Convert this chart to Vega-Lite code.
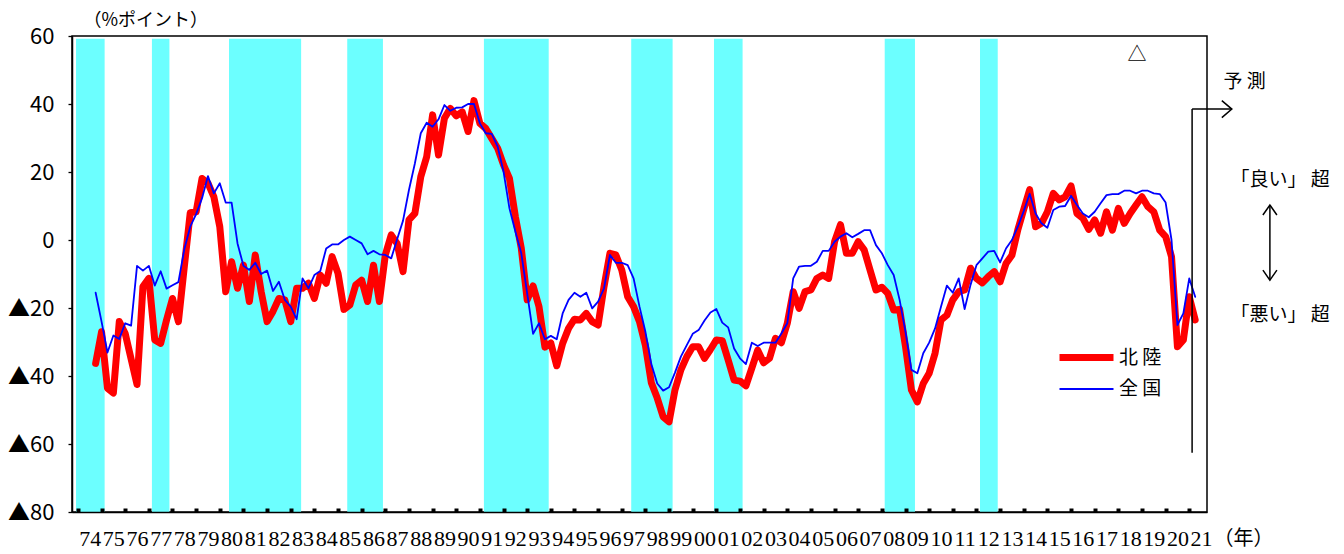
{
  "$schema": "https://vega.github.io/schema/vega-lite/v6.json",
  "width": 1135,
  "height": 476,
  "autosize": {"type": "none"},
  "padding": {"left": 72, "top": 36, "right": 137, "bottom": 42},
  "background": "white",
  "config": {
    "view": {"stroke": "black", "strokeWidth": 1.5},
    "text": {"font": "Noto Sans CJK JP", "fontSize": 18, "color": "black"}
  },
  "datasets": {
    "series": [
      {"t":1974.75,"hokuriku":-36.3,"zenkoku":-15.5},
      {"t":1975.0,"hokuriku":-27.0,"zenkoku":-24.0},
      {"t":1975.25,"hokuriku":-43.6,"zenkoku":-33.1},
      {"t":1975.5,"hokuriku":-45.0,"zenkoku":-28.1},
      {"t":1975.75,"hokuriku":-24.0,"zenkoku":-29.1},
      {"t":1976.0,"hokuriku":-27.5,"zenkoku":-24.5},
      {"t":1976.25,"hokuriku":-35.0,"zenkoku":-25.2},
      {"t":1976.5,"hokuriku":-42.5,"zenkoku":-7.6},
      {"t":1976.75,"hokuriku":-13.7,"zenkoku":-9.0},
      {"t":1977.0,"hokuriku":-11.3,"zenkoku":-7.6},
      {"t":1977.25,"hokuriku":-29.4,"zenkoku":-13.4},
      {"t":1977.5,"hokuriku":-30.4,"zenkoku":-9.2},
      {"t":1977.75,"hokuriku":-23.5,"zenkoku":-14.3},
      {"t":1978.0,"hokuriku":-17.2,"zenkoku":-13.3},
      {"t":1978.25,"hokuriku":-24.0,"zenkoku":-12.4},
      {"t":1978.5,"hokuriku":-7.8,"zenkoku":-2.7},
      {"t":1978.75,"hokuriku":8.0,"zenkoku":3.9},
      {"t":1979.0,"hokuriku":8.3,"zenkoku":7.6},
      {"t":1979.25,"hokuriku":18.1,"zenkoku":12.3},
      {"t":1979.5,"hokuriku":16.7,"zenkoku":18.8},
      {"t":1979.75,"hokuriku":12.7,"zenkoku":13.7},
      {"t":1980.0,"hokuriku":3.9,"zenkoku":16.7},
      {"t":1980.25,"hokuriku":-15.2,"zenkoku":11.0},
      {"t":1980.5,"hokuriku":-6.4,"zenkoku":11.0},
      {"t":1980.75,"hokuriku":-14.2,"zenkoku":-1.0},
      {"t":1981.0,"hokuriku":-7.4,"zenkoku":-7.6},
      {"t":1981.25,"hokuriku":-18.1,"zenkoku":-8.8},
      {"t":1981.5,"hokuriku":-4.4,"zenkoku":-6.7},
      {"t":1981.75,"hokuriku":-15.2,"zenkoku":-10.0},
      {"t":1982.0,"hokuriku":-24.0,"zenkoku":-9.0},
      {"t":1982.25,"hokuriku":-21.0,"zenkoku":-15.0},
      {"t":1982.5,"hokuriku":-17.2,"zenkoku":-12.3},
      {"t":1982.75,"hokuriku":-17.6,"zenkoku":-17.6},
      {"t":1983.0,"hokuriku":-24.0,"zenkoku":-19.6},
      {"t":1983.25,"hokuriku":-14.2,"zenkoku":-23.3},
      {"t":1983.5,"hokuriku":-14.2,"zenkoku":-11.3},
      {"t":1983.75,"hokuriku":-12.7,"zenkoku":-14.2},
      {"t":1984.0,"hokuriku":-17.2,"zenkoku":-10.3},
      {"t":1984.25,"hokuriku":-10.3,"zenkoku":-9.1},
      {"t":1984.5,"hokuriku":-12.7,"zenkoku":-2.5},
      {"t":1984.75,"hokuriku":-4.9,"zenkoku":-1.3},
      {"t":1985.0,"hokuriku":-9.8,"zenkoku":-1.3},
      {"t":1985.25,"hokuriku":-20.4,"zenkoku":0.0},
      {"t":1985.5,"hokuriku":-19.1,"zenkoku":1.0},
      {"t":1985.75,"hokuriku":-13.2,"zenkoku":0.0},
      {"t":1986.0,"hokuriku":-11.8,"zenkoku":-1.0},
      {"t":1986.25,"hokuriku":-18.1,"zenkoku":-4.2},
      {"t":1986.5,"hokuriku":-7.4,"zenkoku":-3.2},
      {"t":1986.75,"hokuriku":-18.1,"zenkoku":-4.2},
      {"t":1987.0,"hokuriku":-4.4,"zenkoku":-4.4},
      {"t":1987.25,"hokuriku":1.5,"zenkoku":-5.4},
      {"t":1987.5,"hokuriku":-1.0,"zenkoku":0.2},
      {"t":1987.75,"hokuriku":-9.3,"zenkoku":5.7},
      {"t":1988.0,"hokuriku":5.9,"zenkoku":14.7},
      {"t":1988.25,"hokuriku":7.8,"zenkoku":22.5},
      {"t":1988.5,"hokuriku":18.6,"zenkoku":31.4},
      {"t":1988.75,"hokuriku":24.5,"zenkoku":34.5},
      {"t":1989.0,"hokuriku":36.8,"zenkoku":33.3},
      {"t":1989.25,"hokuriku":25.0,"zenkoku":35.5},
      {"t":1989.5,"hokuriku":35.8,"zenkoku":39.7},
      {"t":1989.75,"hokuriku":38.7,"zenkoku":38.0},
      {"t":1990.0,"hokuriku":36.5,"zenkoku":38.9},
      {"t":1990.25,"hokuriku":37.7,"zenkoku":39.0},
      {"t":1990.5,"hokuriku":31.9,"zenkoku":40.0},
      {"t":1990.75,"hokuriku":41.0,"zenkoku":40.0},
      {"t":1991.0,"hokuriku":34.3,"zenkoku":34.3},
      {"t":1991.25,"hokuriku":32.8,"zenkoku":31.4},
      {"t":1991.5,"hokuriku":29.9,"zenkoku":31.2},
      {"t":1991.75,"hokuriku":27.0,"zenkoku":27.5},
      {"t":1992.0,"hokuriku":22.1,"zenkoku":20.1},
      {"t":1992.25,"hokuriku":18.1,"zenkoku":9.3},
      {"t":1992.5,"hokuriku":6.9,"zenkoku":2.5},
      {"t":1992.75,"hokuriku":-2.4,"zenkoku":-3.9},
      {"t":1993.0,"hokuriku":-17.6,"zenkoku":-15.7},
      {"t":1993.25,"hokuriku":-13.5,"zenkoku":-27.6},
      {"t":1993.5,"hokuriku":-19.6,"zenkoku":-24.5},
      {"t":1993.75,"hokuriku":-31.5,"zenkoku":-29.2},
      {"t":1994.0,"hokuriku":-30.3,"zenkoku":-28.2},
      {"t":1994.25,"hokuriku":-37.0,"zenkoku":-29.2},
      {"t":1994.5,"hokuriku":-30.4,"zenkoku":-21.6},
      {"t":1994.75,"hokuriku":-26.0,"zenkoku":-17.6},
      {"t":1995.0,"hokuriku":-23.3,"zenkoku":-15.5},
      {"t":1995.25,"hokuriku":-23.5,"zenkoku":-16.7},
      {"t":1995.5,"hokuriku":-21.6,"zenkoku":-15.5},
      {"t":1995.75,"hokuriku":-24.0,"zenkoku":-20.1},
      {"t":1996.0,"hokuriku":-25.0,"zenkoku":-18.1},
      {"t":1996.25,"hokuriku":-13.7,"zenkoku":-14.2},
      {"t":1996.5,"hokuriku":-3.9,"zenkoku":-4.4},
      {"t":1996.75,"hokuriku":-4.4,"zenkoku":-6.7},
      {"t":1997.0,"hokuriku":-8.8,"zenkoku":-6.7},
      {"t":1997.25,"hokuriku":-16.7,"zenkoku":-7.4},
      {"t":1997.5,"hokuriku":-19.6,"zenkoku":-11.3},
      {"t":1997.75,"hokuriku":-24.0,"zenkoku":-19.6},
      {"t":1998.0,"hokuriku":-31.0,"zenkoku":-27.0},
      {"t":1998.25,"hokuriku":-42.0,"zenkoku":-36.5},
      {"t":1998.5,"hokuriku":-46.5,"zenkoku":-42.2},
      {"t":1998.75,"hokuriku":-52.0,"zenkoku":-44.3},
      {"t":1999.0,"hokuriku":-53.5,"zenkoku":-43.3},
      {"t":1999.25,"hokuriku":-44.1,"zenkoku":-39.0},
      {"t":1999.5,"hokuriku":-38.2,"zenkoku":-34.3},
      {"t":1999.75,"hokuriku":-34.3,"zenkoku":-30.9},
      {"t":2000.0,"hokuriku":-31.4,"zenkoku":-27.6},
      {"t":2000.25,"hokuriku":-31.4,"zenkoku":-26.5},
      {"t":2000.5,"hokuriku":-34.8,"zenkoku":-23.7},
      {"t":2000.75,"hokuriku":-32.2,"zenkoku":-21.3},
      {"t":2001.0,"hokuriku":-29.4,"zenkoku":-20.3},
      {"t":2001.25,"hokuriku":-29.6,"zenkoku":-24.3},
      {"t":2001.5,"hokuriku":-35.3,"zenkoku":-25.7},
      {"t":2001.75,"hokuriku":-41.2,"zenkoku":-31.9},
      {"t":2002.0,"hokuriku":-41.5,"zenkoku":-34.8},
      {"t":2002.25,"hokuriku":-42.9,"zenkoku":-36.5},
      {"t":2002.5,"hokuriku":-37.7,"zenkoku":-30.2},
      {"t":2002.75,"hokuriku":-32.4,"zenkoku":-31.2},
      {"t":2003.0,"hokuriku":-36.1,"zenkoku":-30.2},
      {"t":2003.25,"hokuriku":-34.8,"zenkoku":-30.2},
      {"t":2003.5,"hokuriku":-28.9,"zenkoku":-30.2},
      {"t":2003.75,"hokuriku":-30.2,"zenkoku":-27.5},
      {"t":2004.0,"hokuriku":-24.5,"zenkoku":-24.5},
      {"t":2004.25,"hokuriku":-15.2,"zenkoku":-11.3},
      {"t":2004.5,"hokuriku":-20.1,"zenkoku":-7.8},
      {"t":2004.75,"hokuriku":-15.2,"zenkoku":-7.6},
      {"t":2005.0,"hokuriku":-14.7,"zenkoku":-7.6},
      {"t":2005.25,"hokuriku":-11.3,"zenkoku":-6.4},
      {"t":2005.5,"hokuriku":-10.3,"zenkoku":-3.2},
      {"t":2005.75,"hokuriku":-11.3,"zenkoku":-3.2},
      {"t":2006.0,"hokuriku":-0.5,"zenkoku":-0.5},
      {"t":2006.25,"hokuriku":4.5,"zenkoku":1.0},
      {"t":2006.5,"hokuriku":-3.9,"zenkoku":2.0},
      {"t":2006.75,"hokuriku":-3.9,"zenkoku":0.8},
      {"t":2007.0,"hokuriku":-0.5,"zenkoku":1.8},
      {"t":2007.25,"hokuriku":-2.9,"zenkoku":2.9},
      {"t":2007.5,"hokuriku":-8.8,"zenkoku":2.9},
      {"t":2007.75,"hokuriku":-14.7,"zenkoku":-1.5},
      {"t":2008.0,"hokuriku":-13.9,"zenkoku":-3.9},
      {"t":2008.25,"hokuriku":-15.7,"zenkoku":-7.4},
      {"t":2008.5,"hokuriku":-20.6,"zenkoku":-10.3},
      {"t":2008.75,"hokuriku":-20.4,"zenkoku":-17.6},
      {"t":2009.0,"hokuriku":-31.4,"zenkoku":-27.0},
      {"t":2009.25,"hokuriku":-44.1,"zenkoku":-38.2},
      {"t":2009.5,"hokuriku":-47.6,"zenkoku":-39.2},
      {"t":2009.75,"hokuriku":-42.2,"zenkoku":-33.3},
      {"t":2010.0,"hokuriku":-39.2,"zenkoku":-30.2},
      {"t":2010.25,"hokuriku":-33.3,"zenkoku":-26.0},
      {"t":2010.5,"hokuriku":-23.5,"zenkoku":-19.6},
      {"t":2010.75,"hokuriku":-22.1,"zenkoku":-13.4},
      {"t":2011.0,"hokuriku":-17.6,"zenkoku":-15.5},
      {"t":2011.25,"hokuriku":-15.2,"zenkoku":-11.3},
      {"t":2011.5,"hokuriku":-14.7,"zenkoku":-20.3},
      {"t":2011.75,"hokuriku":-8.3,"zenkoku":-13.2},
      {"t":2012.0,"hokuriku":-11.3,"zenkoku":-7.4},
      {"t":2012.25,"hokuriku":-12.6,"zenkoku":-5.4},
      {"t":2012.5,"hokuriku":-10.8,"zenkoku":-3.4},
      {"t":2012.75,"hokuriku":-9.3,"zenkoku":-3.2},
      {"t":2013.0,"hokuriku":-12.3,"zenkoku":-6.6},
      {"t":2013.25,"hokuriku":-6.9,"zenkoku":-2.5},
      {"t":2013.5,"hokuriku":-4.5,"zenkoku":0.0},
      {"t":2013.75,"hokuriku":3.0,"zenkoku":3.9},
      {"t":2014.0,"hokuriku":9.0,"zenkoku":8.5},
      {"t":2014.25,"hokuriku":14.8,"zenkoku":13.6},
      {"t":2014.5,"hokuriku":3.9,"zenkoku":7.8},
      {"t":2014.75,"hokuriku":4.9,"zenkoku":4.9},
      {"t":2015.0,"hokuriku":8.3,"zenkoku":3.6},
      {"t":2015.25,"hokuriku":13.7,"zenkoku":8.8},
      {"t":2015.5,"hokuriku":11.8,"zenkoku":9.8},
      {"t":2015.75,"hokuriku":12.7,"zenkoku":10.0},
      {"t":2016.0,"hokuriku":15.9,"zenkoku":13.0},
      {"t":2016.25,"hokuriku":7.8,"zenkoku":10.3},
      {"t":2016.5,"hokuriku":6.4,"zenkoku":7.8},
      {"t":2016.75,"hokuriku":3.1,"zenkoku":6.7},
      {"t":2017.0,"hokuriku":5.9,"zenkoku":8.3},
      {"t":2017.25,"hokuriku":2.0,"zenkoku":10.8},
      {"t":2017.5,"hokuriku":8.3,"zenkoku":13.2},
      {"t":2017.75,"hokuriku":2.9,"zenkoku":13.5},
      {"t":2018.0,"hokuriku":9.3,"zenkoku":13.5},
      {"t":2018.25,"hokuriku":4.9,"zenkoku":14.5},
      {"t":2018.5,"hokuriku":7.8,"zenkoku":14.5},
      {"t":2018.75,"hokuriku":10.3,"zenkoku":13.7},
      {"t":2019.0,"hokuriku":12.7,"zenkoku":14.5},
      {"t":2019.25,"hokuriku":9.8,"zenkoku":14.5},
      {"t":2019.5,"hokuriku":8.3,"zenkoku":13.7},
      {"t":2019.75,"hokuriku":2.9,"zenkoku":13.5},
      {"t":2020.0,"hokuriku":1.0,"zenkoku":11.0},
      {"t":2020.25,"hokuriku":-4.9,"zenkoku":0.0},
      {"t":2020.5,"hokuriku":-31.4,"zenkoku":-25.0},
      {"t":2020.75,"hokuriku":-29.4,"zenkoku":-21.6},
      {"t":2021.0,"hokuriku":-16.7,"zenkoku":-11.3},
      {"t":2021.25,"hokuriku":-23.5,"zenkoku":-16.7}
    ],
    "bands": [
      {"t":1973.92,"t2":1975.13},
      {"t":1977.13,"t2":1977.87},
      {"t":1980.39,"t2":1983.44},
      {"t":1985.39,"t2":1986.9},
      {"t":1991.17,"t2":1993.91},
      {"t":1997.4,"t2":1999.15},
      {"t":2000.9,"t2":2002.11},
      {"t":2008.12,"t2":2009.4},
      {"t":2012.15,"t2":2012.9}
    ],
    "notes": [
      {"t":2023.34,"v":46.5,"label":"予 測"},
      {"t":2024.84,"v":17.6,"label":"「良い」 超"},
      {"t":2024.84,"v":-22.1,"label":"「悪い」 超"},
      {"t":2018.79,"v":54.4,"label":"△"}
    ],
    "arrowLines": [
      {"t":2021.12,"v":38.5,"t2":2021.12,"v2":-62.6},
      {"t":2021.12,"v":38.5,"t2":2022.8,"v2":38.5},
      {"t":2024.41,"v":10.3,"t2":2024.41,"v2":-11.8}
    ],
    "headRight": [{"t":2022.8,"v":38.5}],
    "headUp": [{"t":2024.41,"v":10.3}],
    "headDown": [{"t":2024.41,"v":-11.8}]
  },
  "layer": [
    {
      "data": {"name": "bands"},
      "mark": {"type": "rect", "color": "#6cffff"},
      "encoding": {
        "x": {
          "field": "t", "type": "quantitative",
          "scale": {"domain": [1973.75, 2021.75], "nice": false, "zero": false},
          "axis": {
            "title": "（年）",
            "values": [1974,1975,1976,1977,1978,1979,1980,1981,1982,1983,1984,1985,1986,1987,1988,1989,1990,1991,1992,1993,1994,1995,1996,1997,1998,1999,2000,2001,2002,2003,2004,2005,2006,2007,2008,2009,2010,2011,2012,2013,2014,2015,2016,2017,2018,2019,2020,2021],
            "tickCount": 60,
            "labelExpr": "substring(toString(datum.value), 2, 4)",
            "labelOffset": 11.8,
            "labelOverlap": false,
            "labelFlush": false,
            "labelBound": false,
            "labelFont": "Liberation Sans Narrow",
            "labelFontSize": 22,
            "labelColor": "black",
            "labelPadding": 20,
            "tickSize": -4,
            "tickWidth": 4,
            "tickColor": "black",
            "tickCap": "butt",
            "domainColor": "black",
            "domainWidth": 1.5,
            "grid": false,
            "zindex": 1,
            "titleX": 1141,
            "titleY": 26,
            "titleAlign": "left",
            "titleBaseline": "middle",
            "titleFont": "Noto Sans CJK JP",
            "titleFontSize": 20,
            "titleFontWeight": "normal",
            "titleColor": "black"
          }
        },
        "x2": {"field": "t2"},
        "y": {
          "datum": 59.2, "type": "quantitative",
          "scale": {"domain": [-80, 60], "nice": false},
          "axis": {
            "title": "（%ポイント）",
            "values": [-80, -60, -40, -20, 0, 20, 40, 60],
            "tickCount": 10,
            "labelExpr": "datum.value < 0 ? '▲' + (-datum.value) : '' + datum.value",
            "labelFont": "Noto Sans CJK JP",
            "labelFontSize": 22,
            "labelColor": "black",
            "labelPadding": 14,
            "tickSize": 4,
            "tickWidth": 1.3,
            "tickColor": "black",
            "domainColor": "black",
            "domainWidth": 1.5,
            "grid": false,
            "zindex": 1,
            "titleAngle": 0,
            "titleX": 11,
            "titleY": -16,
            "titleAlign": "left",
            "titleBaseline": "middle",
            "titleFont": "Noto Sans CJK JP",
            "titleFontSize": 18,
            "titleFontWeight": "normal",
            "titleColor": "black"
          }
        },
        "y2": {"datum": -80}
      }
    },
    {
      "mark": {"type": "rule", "color": "black", "strokeWidth": 1.5},
      "encoding": {
        "y": {"datum": 0, "type": "quantitative"}
      }
    },
    {
      "data": {"name": "series"},
      "transform": [{"fold": ["hokuriku", "zenkoku"], "as": ["series", "value"]}],
      "mark": {"type": "line", "strokeJoin": "round", "strokeCap": "round"},
      "encoding": {
        "x": {"field": "t", "type": "quantitative"},
        "y": {"field": "value", "type": "quantitative"},
        "color": {
          "field": "series", "type": "nominal",
          "scale": {"domain": ["hokuriku", "zenkoku"], "range": ["#ff0000", "#0000ff"]},
          "legend": {
            "orient": "none", "legendX": 1001, "legendY": 308, "title": null,
            "symbolType": "M-2.7,0L2.7,0", "symbolSize": 400,
            "labelFont": "Noto Sans CJK JP", "labelFontSize": 19, "labelColor": "black",
            "labelOffset": 19, "rowPadding": 6, "padding": 0,
            "labelExpr": "datum.label == 'hokuriku' ? '北 陸' : '全 国'"
          }
        },
        "strokeWidth": {
          "field": "series", "type": "nominal",
          "scale": {"domain": ["hokuriku", "zenkoku"], "range": [7, 1.8]},
          "legend": {
            "orient": "none", "legendX": 1001, "legendY": 308, "title": null,
            "symbolType": "M-2.7,0L2.7,0", "symbolSize": 400,
            "labelFont": "Noto Sans CJK JP", "labelFontSize": 19, "labelColor": "black",
            "labelOffset": 19, "rowPadding": 6, "padding": 0,
            "labelExpr": "datum.label == 'hokuriku' ? '北 陸' : '全 国'"
          }
        }
      }
    },
    {
      "data": {"name": "arrowLines"},
      "mark": {"type": "rule", "color": "black", "strokeWidth": 1.5},
      "encoding": {
        "x": {"field": "t", "type": "quantitative"},
        "x2": {"field": "t2"},
        "y": {"field": "v", "type": "quantitative"},
        "y2": {"field": "v2"}
      }
    },
    {
      "data": {"name": "headRight"},
      "mark": {"type": "point", "shape": "M-1,-0.85L0,0L-1,0.85", "size": 400, "filled": false, "color": "black", "strokeWidth": 1.5, "opacity": 1},
      "encoding": {
        "x": {"field": "t", "type": "quantitative"},
        "y": {"field": "v", "type": "quantitative"}
      }
    },
    {
      "data": {"name": "headUp"},
      "mark": {"type": "point", "shape": "M-0.7,1L0,0L0.7,1", "size": 400, "filled": false, "color": "black", "strokeWidth": 1.5, "opacity": 1},
      "encoding": {
        "x": {"field": "t", "type": "quantitative"},
        "y": {"field": "v", "type": "quantitative"}
      }
    },
    {
      "data": {"name": "headDown"},
      "mark": {"type": "point", "shape": "M-0.7,-1L0,0L0.7,-1", "size": 400, "filled": false, "color": "black", "strokeWidth": 1.5, "opacity": 1},
      "encoding": {
        "x": {"field": "t", "type": "quantitative"},
        "y": {"field": "v", "type": "quantitative"}
      }
    },
    {
      "data": {"name": "notes"},
      "mark": {"type": "text", "align": "center", "baseline": "middle", "font": "Noto Sans CJK JP", "fontSize": 19, "color": "black"},
      "encoding": {
        "x": {"field": "t", "type": "quantitative"},
        "y": {"field": "v", "type": "quantitative"},
        "text": {"field": "label"}
      }
    }
  ]
}
